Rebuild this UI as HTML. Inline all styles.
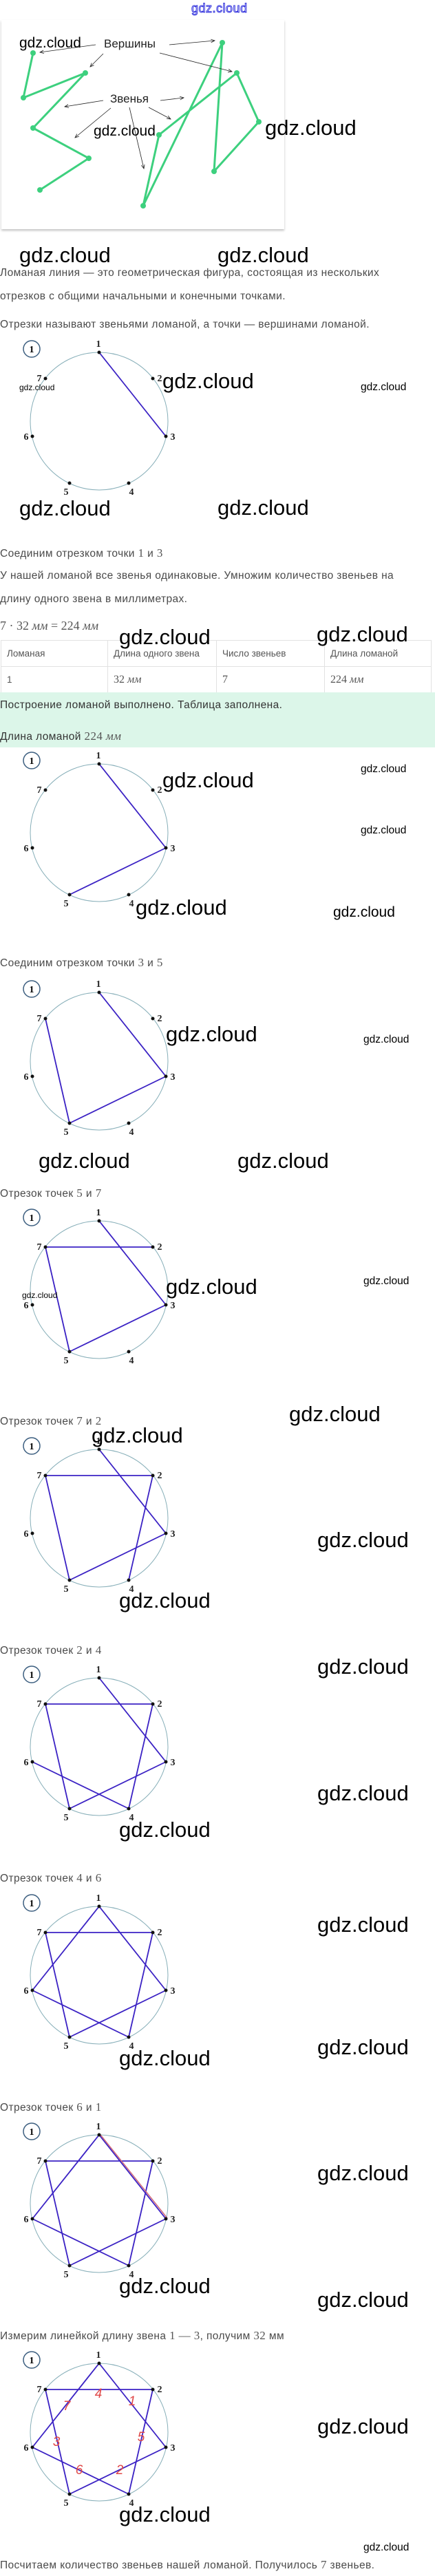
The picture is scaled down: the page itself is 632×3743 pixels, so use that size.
<!DOCTYPE html>
<html><head><meta charset="utf-8">
<style>
*{margin:0;padding:0;box-sizing:border-box}
body{width:632px;height:3743px;position:relative;background:#fff;font-family:"Liberation Sans",sans-serif;overflow:hidden}
.a{position:absolute;white-space:nowrap}
.t{font-size:15.5px;color:#4a4a4a;line-height:20px;letter-spacing:0.4px}
.m{font-family:"Liberation Serif",serif;font-size:17px;color:#555}
.mi{font-family:"Liberation Serif",serif;font-style:italic;color:#555}
.W{font-size:31px;color:#000;line-height:31px}
.M{font-size:21px;color:#000;line-height:21px}
.S{font-size:15.5px;color:#000;line-height:16px}
.X{font-size:12px;color:#000;line-height:12px}
svg.d{position:absolute;left:0}
.tb{position:absolute;left:1px;top:930px;width:626px;border-collapse:collapse;font-size:13.5px;color:#555}
.tb td{border:1px solid #e2e2e2;padding:0 8px;height:38px}
</style></head><body>

<div class="a" style="left:278px;top:2px;font-size:18px;color:#fff;-webkit-text-stroke:1px #3333dd;letter-spacing:0.5px">gdz.cloud</div>

<div class="a" style="left:2px;top:29px;width:411px;height:304px;background:#fff;box-shadow:0 2px 3px rgba(0,0,0,0.25)"></div>
<svg class="a" style="left:0;top:0" width="420" height="340">
<defs><marker id="ar" markerWidth="8" markerHeight="8" refX="7" refY="4" orient="auto"><path d="M0,1 L7,4 L0,7" fill="none" stroke="#222" stroke-width="1"/></marker></defs>
<g stroke="#3dd07e" stroke-width="3" fill="none" stroke-linejoin="round">
<polyline points="48,77 34,142 124,106 48,186 129,230 58,276"/>
<polyline points="208,299 323,62 311,249 376,177 344,106 231,196 208,299"/>
</g>
<g fill="#3dd07e">
<circle cx="48" cy="77" r="4"/><circle cx="34" cy="142" r="4"/><circle cx="124" cy="106" r="4"/><circle cx="48" cy="186" r="4"/><circle cx="129" cy="230" r="4"/><circle cx="58" cy="276" r="4"/>
<circle cx="208" cy="299" r="4"/><circle cx="323" cy="62" r="4"/><circle cx="311" cy="249" r="4"/><circle cx="376" cy="177" r="4"/><circle cx="344" cy="106" r="4"/><circle cx="231" cy="196" r="4"/>
</g>
<g stroke="#222" stroke-width="0.8" marker-end="url(#ar)">
<line x1="139" y1="65" x2="58" y2="76"/><line x1="150" y1="78" x2="131" y2="97"/>
<line x1="246" y1="65" x2="312" y2="59"/><line x1="232" y1="77" x2="337" y2="104"/>
<line x1="150" y1="146" x2="94" y2="155"/><line x1="233" y1="146" x2="267" y2="142"/>
<line x1="216" y1="156" x2="248" y2="173"/><line x1="161" y1="157" x2="109" y2="200"/>
<line x1="188" y1="156" x2="209" y2="245"/>
</g>
<text x="151" y="69" font-family="Liberation Sans" font-size="17" fill="#222">Вершины</text>
<text x="160" y="149" font-family="Liberation Sans" font-size="17" fill="#222">Звенья</text>
</svg>
<div class="a M" style="left:28px;top:52px">gdz.cloud</div>
<div class="a M" style="left:136px;top:180px">gdz.cloud</div>
<div class="a W" style="left:385px;top:170px">gdz.cloud</div>

<div class="a W" style="left:28px;top:355px">gdz.cloud</div>
<div class="a W" style="left:316px;top:355px">gdz.cloud</div>
<div class="a t" style="left:0;top:387px">Ломаная линия — это геометрическая фигура, состоящая из нескольких</div>
<div class="a t" style="left:0;top:421px">отрезков с общими начальными и конечными точками.</div>
<div class="a t" style="left:0;top:462px">Отрезки называют звеньями ломаной, а точки — вершинами ломаной.</div>

<!-- D1 -->
<svg class="d" style="top:492px" width="270" height="250"><circle cx="144" cy="120" r="100" fill="none" stroke="#86aeb8"/><circle cx="46" cy="15" r="12" fill="none" stroke="#3d5f80" stroke-width="1.5"/><text x="46" y="20" text-anchor="middle" font-family="Liberation Serif" font-weight="bold" font-size="14">1</text>
<g stroke="#3b22c4" stroke-width="1.8"><line x1="144" y1="20" x2="241" y2="142"/></g>
<g fill="#111"><circle cx="144" cy="20" r="2.5"/><circle cx="222" cy="58" r="2.5"/><circle cx="241" cy="142" r="2.5"/><circle cx="187" cy="210" r="2.5"/><circle cx="101" cy="210" r="2.5"/><circle cx="47" cy="142" r="2.5"/><circle cx="66" cy="58" r="2.5"/></g>
<g font-family="Liberation Serif" font-weight="bold" font-size="14" text-anchor="middle" fill="#222"><text x="143" y="12">1</text><text x="232" y="62">2</text><text x="251" y="147">3</text><text x="191" y="227">4</text><text x="96" y="227">5</text><text x="38" y="147">6</text><text x="57" y="62">7</text></g></svg>
<div class="a X" style="left:28px;top:557px">gdz.cloud</div>
<div class="a W" style="left:236px;top:538px">gdz.cloud</div>
<div class="a S" style="left:524px;top:555px">gdz.cloud</div>

<div class="a W" style="left:28px;top:723px">gdz.cloud</div>
<div class="a W" style="left:316px;top:722px">gdz.cloud</div>
<div class="a t" style="left:0;top:794px">Соединим отрезком точки <span class="m">1</span> и <span class="m">3</span></div>
<div class="a t" style="left:0;top:827px">У нашей ломаной все звенья одинаковые. Умножим количество звеньев на</div>
<div class="a t" style="left:0;top:861px">длину одного звена в миллиметрах.</div>
<div class="a m" style="left:0;top:899px;font-size:18px">7 · 32 <i>мм</i> = 224 <i>мм</i></div>
<table class="tb"><tr><td style="width:155px">Ломаная</td><td style="width:158px">Длина одного звена</td><td style="width:157px">Число звеньев</td><td>Длина ломаной</td></tr>
<tr><td>1</td><td class="m" style="font-size:16px">32 <i>мм</i></td><td class="m" style="font-size:16px">7</td><td class="m" style="font-size:16px">224 <i>мм</i></td></tr></table>
<div class="a W" style="left:173px;top:910px">gdz.cloud</div>
<div class="a W" style="left:460px;top:906px">gdz.cloud</div>
<div class="a" style="left:0;top:1006px;width:632px;height:80px;background:#dcf6e9"></div>
<div class="a t" style="left:0;top:1015px;color:#333">Построение ломаной выполнено. Таблица заполнена.</div>
<div class="a t" style="left:0;top:1060px;color:#333">Длина ломаной <span class="m">224 <i>мм</i></span></div>

<!-- D2 -->
<svg class="d" style="top:1090px" width="270" height="250"><circle cx="144" cy="120" r="100" fill="none" stroke="#86aeb8"/><circle cx="46" cy="15" r="12" fill="none" stroke="#3d5f80" stroke-width="1.5"/><text x="46" y="20" text-anchor="middle" font-family="Liberation Serif" font-weight="bold" font-size="14">1</text>
<g stroke="#3b22c4" stroke-width="1.8"><line x1="144" y1="20" x2="241" y2="142"/><line x1="241" y1="142" x2="101" y2="210"/></g>
<g fill="#111"><circle cx="144" cy="20" r="2.5"/><circle cx="222" cy="58" r="2.5"/><circle cx="241" cy="142" r="2.5"/><circle cx="187" cy="210" r="2.5"/><circle cx="101" cy="210" r="2.5"/><circle cx="47" cy="142" r="2.5"/><circle cx="66" cy="58" r="2.5"/></g>
<g font-family="Liberation Serif" font-weight="bold" font-size="14" text-anchor="middle" fill="#222"><text x="143" y="12">1</text><text x="232" y="62">2</text><text x="251" y="147">3</text><text x="191" y="227">4</text><text x="96" y="227">5</text><text x="38" y="147">6</text><text x="57" y="62">7</text></g></svg>
<div class="a S" style="left:524px;top:1110px">gdz.cloud</div>
<div class="a S" style="left:524px;top:1199px">gdz.cloud</div>
<div class="a W" style="left:236px;top:1118px">gdz.cloud</div>
<div class="a W" style="left:197px;top:1303px">gdz.cloud</div>
<div class="a M" style="left:484px;top:1315px">gdz.cloud</div>

<div class="a t" style="left:0;top:1389px">Соединим отрезком точки <span class="m">3</span> и <span class="m">5</span></div>
<!-- D3 -->
<svg class="d" style="top:1422px" width="270" height="250"><circle cx="144" cy="120" r="100" fill="none" stroke="#86aeb8"/><circle cx="46" cy="15" r="12" fill="none" stroke="#3d5f80" stroke-width="1.5"/><text x="46" y="20" text-anchor="middle" font-family="Liberation Serif" font-weight="bold" font-size="14">1</text>
<g stroke="#3b22c4" stroke-width="1.8"><line x1="144" y1="20" x2="241" y2="142"/><line x1="241" y1="142" x2="101" y2="210"/><line x1="101" y1="210" x2="66" y2="58"/></g>
<g fill="#111"><circle cx="144" cy="20" r="2.5"/><circle cx="222" cy="58" r="2.5"/><circle cx="241" cy="142" r="2.5"/><circle cx="187" cy="210" r="2.5"/><circle cx="101" cy="210" r="2.5"/><circle cx="47" cy="142" r="2.5"/><circle cx="66" cy="58" r="2.5"/></g>
<g font-family="Liberation Serif" font-weight="bold" font-size="14" text-anchor="middle" fill="#222"><text x="143" y="12">1</text><text x="232" y="62">2</text><text x="251" y="147">3</text><text x="191" y="227">4</text><text x="96" y="227">5</text><text x="38" y="147">6</text><text x="57" y="62">7</text></g></svg>
<div class="a W" style="left:241px;top:1487px">gdz.cloud</div>
<div class="a S" style="left:528px;top:1503px">gdz.cloud</div>
<div class="a W" style="left:56px;top:1671px">gdz.cloud</div>
<div class="a W" style="left:345px;top:1671px">gdz.cloud</div>

<div class="a t" style="left:0;top:1724px">Отрезок точек <span class="m">5</span> и <span class="m">7</span></div>
<!-- D4 -->
<svg class="d" style="top:1754px" width="270" height="250"><circle cx="144" cy="120" r="100" fill="none" stroke="#86aeb8"/><circle cx="46" cy="15" r="12" fill="none" stroke="#3d5f80" stroke-width="1.5"/><text x="46" y="20" text-anchor="middle" font-family="Liberation Serif" font-weight="bold" font-size="14">1</text>
<g stroke="#3b22c4" stroke-width="1.8"><line x1="144" y1="20" x2="241" y2="142"/><line x1="241" y1="142" x2="101" y2="210"/><line x1="101" y1="210" x2="66" y2="58"/><line x1="66" y1="58" x2="222" y2="58"/></g>
<g fill="#111"><circle cx="144" cy="20" r="2.5"/><circle cx="222" cy="58" r="2.5"/><circle cx="241" cy="142" r="2.5"/><circle cx="187" cy="210" r="2.5"/><circle cx="101" cy="210" r="2.5"/><circle cx="47" cy="142" r="2.5"/><circle cx="66" cy="58" r="2.5"/></g>
<g font-family="Liberation Serif" font-weight="bold" font-size="14" text-anchor="middle" fill="#222"><text x="143" y="12">1</text><text x="232" y="62">2</text><text x="251" y="147">3</text><text x="191" y="227">4</text><text x="96" y="227">5</text><text x="38" y="147">6</text><text x="57" y="62">7</text></g></svg>
<div class="a W" style="left:241px;top:1854px">gdz.cloud</div>
<div class="a S" style="left:528px;top:1854px">gdz.cloud</div>
<div class="a X" style="left:32px;top:1876px">gdz.cloud</div>
<div class="a W" style="left:420px;top:2039px">gdz.cloud</div>

<div class="a t" style="left:0;top:2055px">Отрезок точек <span class="m">7</span> и <span class="m">2</span></div>
<!-- D5 -->
<svg class="d" style="top:2086px" width="270" height="250"><circle cx="144" cy="120" r="100" fill="none" stroke="#86aeb8"/><circle cx="46" cy="15" r="12" fill="none" stroke="#3d5f80" stroke-width="1.5"/><text x="46" y="20" text-anchor="middle" font-family="Liberation Serif" font-weight="bold" font-size="14">1</text>
<g stroke="#3b22c4" stroke-width="1.8"><line x1="144" y1="20" x2="241" y2="142"/><line x1="241" y1="142" x2="101" y2="210"/><line x1="101" y1="210" x2="66" y2="58"/><line x1="66" y1="58" x2="222" y2="58"/><line x1="222" y1="58" x2="187" y2="210"/></g>
<g fill="#111"><circle cx="144" cy="20" r="2.5"/><circle cx="222" cy="58" r="2.5"/><circle cx="241" cy="142" r="2.5"/><circle cx="187" cy="210" r="2.5"/><circle cx="101" cy="210" r="2.5"/><circle cx="47" cy="142" r="2.5"/><circle cx="66" cy="58" r="2.5"/></g>
<g font-family="Liberation Serif" font-weight="bold" font-size="14" text-anchor="middle" fill="#222"><text x="143" y="12">1</text><text x="232" y="62">2</text><text x="251" y="147">3</text><text x="191" y="227">4</text><text x="96" y="227">5</text><text x="38" y="147">6</text><text x="57" y="62">7</text></g></svg>
<div class="a W" style="left:133px;top:2070px">gdz.cloud</div>
<div class="a W" style="left:461px;top:2222px">gdz.cloud</div>
<div class="a W" style="left:173px;top:2310px">gdz.cloud</div>

<div class="a t" style="left:0;top:2388px">Отрезок точек <span class="m">2</span> и <span class="m">4</span></div>
<div class="a W" style="left:461px;top:2406px">gdz.cloud</div>
<!-- D6 -->
<svg class="d" style="top:2418px" width="270" height="250"><circle cx="144" cy="120" r="100" fill="none" stroke="#86aeb8"/><circle cx="46" cy="15" r="12" fill="none" stroke="#3d5f80" stroke-width="1.5"/><text x="46" y="20" text-anchor="middle" font-family="Liberation Serif" font-weight="bold" font-size="14">1</text>
<g stroke="#3b22c4" stroke-width="1.8"><line x1="144" y1="20" x2="241" y2="142"/><line x1="241" y1="142" x2="101" y2="210"/><line x1="101" y1="210" x2="66" y2="58"/><line x1="66" y1="58" x2="222" y2="58"/><line x1="222" y1="58" x2="187" y2="210"/><line x1="187" y1="210" x2="47" y2="142"/></g>
<g fill="#111"><circle cx="144" cy="20" r="2.5"/><circle cx="222" cy="58" r="2.5"/><circle cx="241" cy="142" r="2.5"/><circle cx="187" cy="210" r="2.5"/><circle cx="101" cy="210" r="2.5"/><circle cx="47" cy="142" r="2.5"/><circle cx="66" cy="58" r="2.5"/></g>
<g font-family="Liberation Serif" font-weight="bold" font-size="14" text-anchor="middle" fill="#222"><text x="143" y="12">1</text><text x="232" y="62">2</text><text x="251" y="147">3</text><text x="191" y="227">4</text><text x="96" y="227">5</text><text x="38" y="147">6</text><text x="57" y="62">7</text></g></svg>
<div class="a W" style="left:461px;top:2590px">gdz.cloud</div>
<div class="a W" style="left:173px;top:2643px">gdz.cloud</div>

<div class="a t" style="left:0;top:2719px">Отрезок точек <span class="m">4</span> и <span class="m">6</span></div>
<div class="a W" style="left:461px;top:2781px">gdz.cloud</div>
<!-- D7 -->
<svg class="d" style="top:2750px" width="270" height="250"><circle cx="144" cy="120" r="100" fill="none" stroke="#86aeb8"/><circle cx="46" cy="15" r="12" fill="none" stroke="#3d5f80" stroke-width="1.5"/><text x="46" y="20" text-anchor="middle" font-family="Liberation Serif" font-weight="bold" font-size="14">1</text>
<g stroke="#3b22c4" stroke-width="1.8"><line x1="144" y1="20" x2="241" y2="142"/><line x1="241" y1="142" x2="101" y2="210"/><line x1="101" y1="210" x2="66" y2="58"/><line x1="66" y1="58" x2="222" y2="58"/><line x1="222" y1="58" x2="187" y2="210"/><line x1="187" y1="210" x2="47" y2="142"/><line x1="47" y1="142" x2="144" y2="20"/></g>
<g fill="#111"><circle cx="144" cy="20" r="2.5"/><circle cx="222" cy="58" r="2.5"/><circle cx="241" cy="142" r="2.5"/><circle cx="187" cy="210" r="2.5"/><circle cx="101" cy="210" r="2.5"/><circle cx="47" cy="142" r="2.5"/><circle cx="66" cy="58" r="2.5"/></g>
<g font-family="Liberation Serif" font-weight="bold" font-size="14" text-anchor="middle" fill="#222"><text x="143" y="12">1</text><text x="232" y="62">2</text><text x="251" y="147">3</text><text x="191" y="227">4</text><text x="96" y="227">5</text><text x="38" y="147">6</text><text x="57" y="62">7</text></g></svg>
<div class="a W" style="left:461px;top:2959px">gdz.cloud</div>
<div class="a W" style="left:173px;top:2975px">gdz.cloud</div>

<div class="a t" style="left:0;top:3052px">Отрезок точек <span class="m">6</span> и <span class="m">1</span></div>
<!-- D8 -->
<svg class="d" style="top:3082px" width="270" height="250"><circle cx="144" cy="120" r="100" fill="none" stroke="#86aeb8"/><circle cx="46" cy="15" r="12" fill="none" stroke="#3d5f80" stroke-width="1.5"/><text x="46" y="20" text-anchor="middle" font-family="Liberation Serif" font-weight="bold" font-size="14">1</text>
<g stroke="#3b22c4" stroke-width="1.8"><line x1="144" y1="20" x2="241" y2="142"/><line x1="241" y1="142" x2="101" y2="210"/><line x1="101" y1="210" x2="66" y2="58"/><line x1="66" y1="58" x2="222" y2="58"/><line x1="222" y1="58" x2="187" y2="210"/><line x1="187" y1="210" x2="47" y2="142"/><line x1="47" y1="142" x2="144" y2="20"/></g>
<line x1="146" y1="20" x2="243" y2="141" stroke="#d06a7a" stroke-width="1.5"/>
<g fill="#111"><circle cx="144" cy="20" r="2.5"/><circle cx="222" cy="58" r="2.5"/><circle cx="241" cy="142" r="2.5"/><circle cx="187" cy="210" r="2.5"/><circle cx="101" cy="210" r="2.5"/><circle cx="47" cy="142" r="2.5"/><circle cx="66" cy="58" r="2.5"/></g>
<g font-family="Liberation Serif" font-weight="bold" font-size="14" text-anchor="middle" fill="#222"><text x="143" y="12">1</text><text x="232" y="62">2</text><text x="251" y="147">3</text><text x="191" y="227">4</text><text x="96" y="227">5</text><text x="38" y="147">6</text><text x="57" y="62">7</text></g></svg>
<div class="a W" style="left:461px;top:3142px">gdz.cloud</div>
<div class="a W" style="left:173px;top:3306px">gdz.cloud</div>
<div class="a W" style="left:461px;top:3326px">gdz.cloud</div>

<div class="a t" style="left:0;top:3384px">Измерим линейкой длину звена <span class="m">1 — 3</span>, получим <span class="m">32</span> мм</div>
<!-- D9 -->
<svg class="d" style="top:3414px" width="270" height="250"><circle cx="144" cy="120" r="100" fill="none" stroke="#86aeb8"/><circle cx="46" cy="15" r="12" fill="none" stroke="#3d5f80" stroke-width="1.5"/><text x="46" y="20" text-anchor="middle" font-family="Liberation Serif" font-weight="bold" font-size="14">1</text>
<g stroke="#3b22c4" stroke-width="1.8"><line x1="144" y1="20" x2="241" y2="142"/><line x1="241" y1="142" x2="101" y2="210"/><line x1="101" y1="210" x2="66" y2="58"/><line x1="66" y1="58" x2="222" y2="58"/><line x1="222" y1="58" x2="187" y2="210"/><line x1="187" y1="210" x2="47" y2="142"/><line x1="47" y1="142" x2="144" y2="20"/></g>
<g fill="#111"><circle cx="144" cy="20" r="2.5"/><circle cx="222" cy="58" r="2.5"/><circle cx="241" cy="142" r="2.5"/><circle cx="187" cy="210" r="2.5"/><circle cx="101" cy="210" r="2.5"/><circle cx="47" cy="142" r="2.5"/><circle cx="66" cy="58" r="2.5"/></g>
<g font-family="Liberation Serif" font-weight="bold" font-size="14" text-anchor="middle" fill="#222"><text x="143" y="12">1</text><text x="232" y="62">2</text><text x="251" y="147">3</text><text x="191" y="227">4</text><text x="96" y="227">5</text><text x="38" y="147">6</text><text x="57" y="62">7</text></g>
<g font-family="Liberation Sans" font-style="italic" font-size="19" text-anchor="middle" fill="#e04848"><text x="192" y="81">1</text><text x="143" y="70">4</text><text x="97" y="88">7</text><text x="205" y="133">5</text><text x="82" y="140">3</text><text x="115" y="181">6</text><text x="174" y="181">2</text></g></svg>
<div class="a W" style="left:461px;top:3510px">gdz.cloud</div>
<div class="a W" style="left:173px;top:3638px">gdz.cloud</div>
<div class="a S" style="left:528px;top:3694px">gdz.cloud</div>
<div class="a t" style="left:0;top:3717px">Посчитаем количество звеньев нашей ломаной. Получилось <span class="m">7</span> звеньев.</div>
</body></html>
